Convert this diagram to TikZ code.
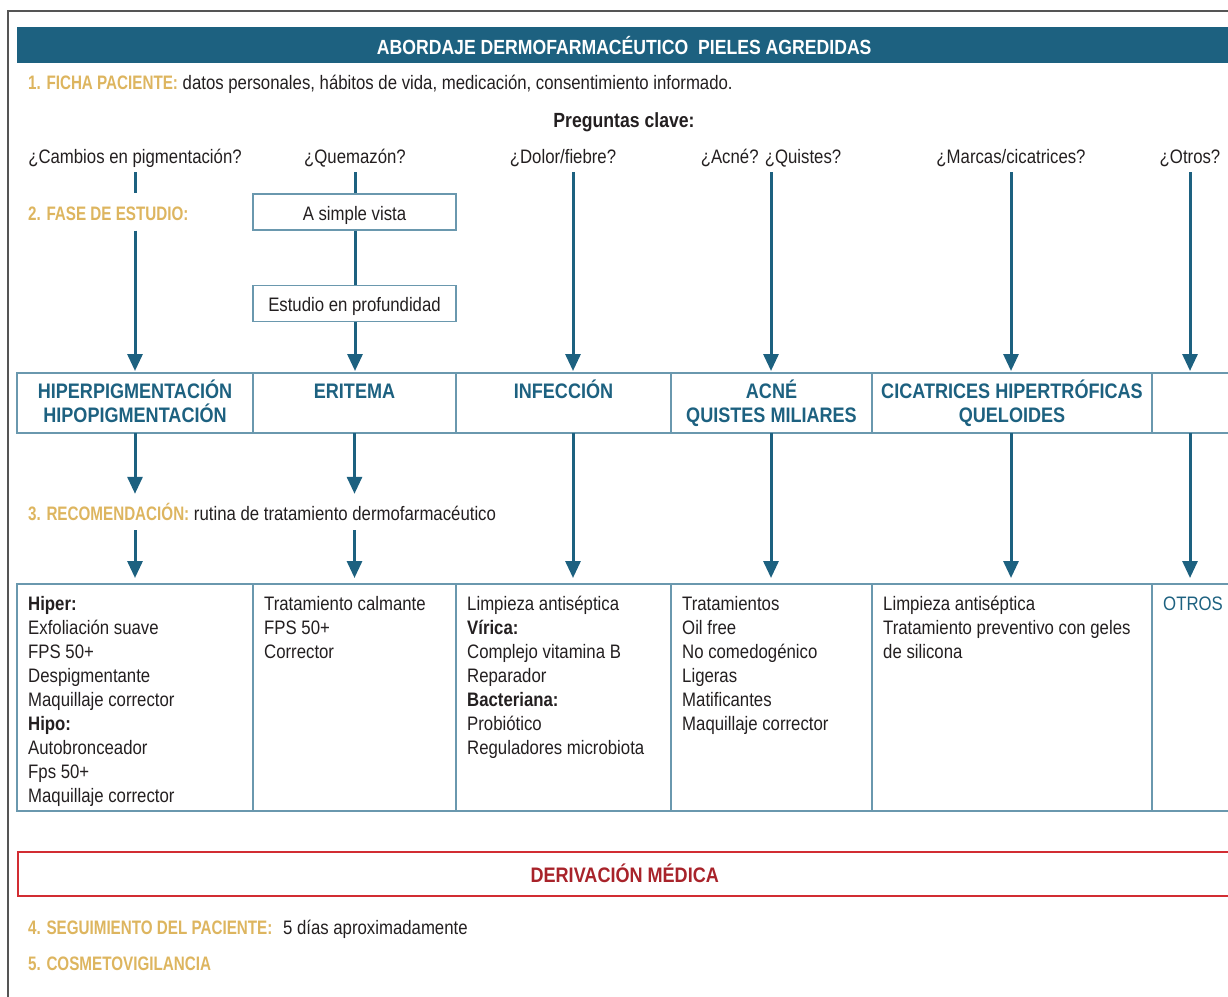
\documentclass[tikz,border=0pt]{standalone}
\usepackage{fontspec}
\setmainfont[FakeStretch=0.86]{Liberation Sans}
\newfontfamily\estrecha[FakeStretch=0.78]{Liberation Sans}
\usetikzlibrary{arrows.meta, positioning}

\definecolor{azul}{RGB}{29,97,128}
\definecolor{borde}{RGB}{106,152,174}
\definecolor{oro}{RGB}{221,181,95}
\definecolor{rojo}{RGB}{210,45,50}
\definecolor{rojotxt}{RGB}{168,35,42}
\definecolor{marco}{RGB}{85,85,85}
\definecolor{tinta}{RGB}{35,31,32}

\newcommand{\dorado}[1]{{\color{oro}\estrecha\bfseries #1}}

\tikzset{
  texto/.style={inner sep=0pt, text=tinta, font=\fontsize{19.5}{24}\selectfont},
  linea/.style={texto, text height=15pt, text depth=4pt},
  pregunta/.style={linea, outer ysep=5pt},
  caja/.style={color=borde, draw, line width=1.2pt, minimum width=203pt, minimum height=36pt, inner sep=0pt,
    text height=18pt, text depth=2pt, text=tinta, font=\fontsize{19.5}{24}\selectfont},
  cabecera/.style={draw=borde, line width=1.2pt, minimum height=60pt, inner sep=0pt, outer sep=0pt},
  celda/.style={draw=borde, line width=1.2pt, minimum height=227pt, inner sep=0pt, outer sep=0pt},
  titcol/.style={inner sep=0pt, align=center, text=azul, font=\fontsize{21}{24}\selectfont\bfseries},
  cuerpo/.style={texto, align=left},
  derivar/.style={color=rojo, draw, line width=1.5pt, minimum width=1214pt, minimum height=44pt, inner sep=0pt,
    text=rojotxt, font=\fontsize{21}{24}\selectfont\bfseries},
  flecha/.style={draw=azul, line width=3pt, -{Triangle[length=17pt, width=15pt]}},
  tramo/.style={draw=azul, line width=3pt}
}

\begin{document}
\begin{tikzpicture}[x=1pt, y=-1pt]
    \useasboundingbox (0,0) rectangle (1228,996);
    \draw[marco, line width=1.6pt] (8,998) -- (8,11) -- (1240,11);

    % cabecera
    \node (titulo) [anchor=north west, fill=azul, minimum width=1214pt, minimum height=36pt, inner sep=0pt,
        text=white, font=\fontsize{20.5}{24}\selectfont\bfseries] at (17,27) {ABORDAJE DERMOFARMACÉUTICO\ \ PIELES AGREDIDAS};

    \node (ficha) [linea, anchor=base west] at (28,89) {\dorado{1. FICHA PACIENTE:} datos personales, hábitos de vida, medicación, consentimiento informado.};
    \node (clave) [linea, anchor=base, font=\fontsize{20.5}{24}\selectfont\bfseries] at (624,127) {Preguntas clave:};

    % preguntas
    \node (q1) [pregunta, anchor=base] at (135,163) {¿Cambios en pigmentación?};
    \node (q2) [pregunta, anchor=base] at (355,163) {¿Quemazón?};
    \node (q3) [pregunta, anchor=base] at (563,163) {¿Dolor/fiebre?};
    \node (q4) [pregunta, anchor=base] at (771,163) {¿Acné? ¿Quistes?};
    \node (q5) [pregunta, anchor=base] at (1011,163) {¿Marcas/cicatrices?};
    \node (q6) [pregunta, anchor=base] at (1190,163) {¿Otros?};
    \coordinate (k3) at (573,0);

    \node (fase) [linea, anchor=base west] at (28,220) {\dorado{2. FASE DE ESTUDIO:}};
    \node (vista) [caja] at (354.5,212) {A simple vista};
    \node (prof) [caja, below=54pt of vista] {Estudio en profundidad};

    % fila de diagnosticos
    \node (h1) [cabecera, minimum width=236pt, anchor=north west] at (17,373) {};
    \node (h2) [cabecera, minimum width=203pt, right=0pt of h1] {};
    \node (h3) [cabecera, minimum width=215pt, right=0pt of h2] {};
    \node (h4) [cabecera, minimum width=201pt, right=0pt of h3] {};
    \node (h5) [cabecera, minimum width=280pt, right=0pt of h4] {};
    \node (h6) [cabecera, minimum width=90pt, right=0pt of h5] {};

    \node (e1) [titcol, anchor=north] at ([yshift=-5pt]h1.north) {\rule{0pt}{20pt}HIPERPIGMENTACIÓN\\HIPOPIGMENTACIÓN};
    \node (e2) [titcol, anchor=north] at ([yshift=-5pt]h2.north) {\rule{0pt}{20pt}ERITEMA};
    \node (e3) [titcol, anchor=north] at ([yshift=-5pt]h3.north) {\rule{0pt}{20pt}INFECCIÓN};
    \node (e4) [titcol, anchor=north] at ([yshift=-5pt]h4.north) {\rule{0pt}{20pt}ACNÉ\\QUISTES MILIARES};
    \node (e5) [titcol, anchor=north] at ([yshift=-5pt]h5.north) {\rule{0pt}{20pt}CICATRICES HIPERTRÓFICAS\\QUELOIDES};

    \node (rec) [linea, anchor=base west] at (28,520) {\dorado{3. RECOMENDACIÓN:} rutina de tratamiento dermofarmacéutico};

    % fila de tratamientos
    \node (b1) [celda, minimum width=236pt, anchor=north west] at (17,584) {};
    \node (b2) [celda, minimum width=203pt, right=0pt of b1] {};
    \node (b3) [celda, minimum width=215pt, right=0pt of b2] {};
    \node (b4) [celda, minimum width=201pt, right=0pt of b3] {};
    \node (b5) [celda, minimum width=280pt, right=0pt of b4] {};
    \node (b6) [celda, minimum width=90pt, right=0pt of b5] {};

    \node (t1) [cuerpo, anchor=north west] at ([xshift=11pt, yshift=-8pt]b1.north west) {\rule{0pt}{18pt}\textbf{Hiper:}\\Exfoliación suave\\FPS 50+\\Despigmentante\\Maquillaje corrector\\\textbf{Hipo:}\\Autobronceador\\Fps 50+\\Maquillaje corrector};
    \node (t2) [cuerpo, anchor=north west] at ([xshift=11pt, yshift=-8pt]b2.north west) {\rule{0pt}{18pt}Tratamiento calmante\\FPS 50+\\Corrector};
    \node (t3) [cuerpo, anchor=north west] at ([xshift=11pt, yshift=-8pt]b3.north west) {\rule{0pt}{18pt}Limpieza antiséptica\\\textbf{Vírica:}\\Complejo vitamina B\\Reparador\\\textbf{Bacteriana:}\\Probiótico\\Reguladores microbiota};
    \node (t4) [cuerpo, anchor=north west] at ([xshift=11pt, yshift=-8pt]b4.north west) {\rule{0pt}{18pt}Tratamientos\\Oil free\\No comedogénico\\Ligeras\\Matificantes\\Maquillaje corrector};
    \node (t5) [cuerpo, anchor=north west] at ([xshift=11pt, yshift=-8pt]b5.north west) {\rule{0pt}{18pt}Limpieza antiséptica\\Tratamiento preventivo con geles\\de silicona};
    \node (t6) [cuerpo, anchor=north west, text=azul] at ([xshift=11pt, yshift=-8pt]b6.north west) {\rule{0pt}{18pt}OTROS};

    % pie
    \node (deriv) [derivar, anchor=north west] at (17,851) {DERIVACIÓN MÉDICA};
    \node (seguim) [linea, anchor=base west] at (28,934) {\dorado{4. SEGUIMIENTO DEL PACIENTE:}\hspace{6pt} 5 días aproximadamente};
    \node (vigil) [linea, anchor=base west] at (28,970) {\dorado{5. COSMETOVIGILANCIA}};

    % conectores superiores
    \draw[tramo] (q1.south) -- (q1.south |- vista.north);
    \draw[flecha, shorten >=2pt] (q1.south |- vista.south) -- (h1.north -| q1.south);
    \draw[tramo] (q2.south) -- (vista.north -| q2.south);
    \draw[tramo] (vista.south -| q2.south) -- (prof.north -| q2.south);
    \draw[flecha, shorten >=2pt] (prof.south -| q2.south) -- (h2.north -| q2.south);
    \draw[flecha, shorten >=2pt] (q3.south -| k3) -- (h3.north -| k3);
    \draw[flecha, shorten >=2pt] (q4.south) -- (h4.north -| q4.south);
    \draw[flecha, shorten >=2pt] (q5.south) -- (h5.north -| q5.south);
    \draw[flecha, shorten >=2pt] (q6.south) -- (h6.north -| q6.south);

    % conectores inferiores
    \draw[flecha, shorten >=11pt] (h1.south) -- (h1.south |- rec.north);
    \draw[flecha, shorten <=6pt, shorten >=6pt] (h1.south |- rec.south) -- (b1.north -| h1.south);
    \draw[flecha, shorten >=11pt] (h2.south) -- (h2.south |- rec.north);
    \draw[flecha, shorten <=6pt, shorten >=6pt] (h2.south |- rec.south) -- (b2.north -| h2.south);
    \draw[flecha, shorten >=6pt] (h3.south -| k3) -- (b3.north -| k3);
    \draw[flecha, shorten >=6pt] (h4.south -| q4.south) -- (b4.north -| q4.south);
    \draw[flecha, shorten >=6pt] (h5.south -| q5.south) -- (b5.north -| q5.south);
    \draw[flecha, shorten >=6pt] (h6.south -| q6.south) -- (b6.north -| q6.south);
\end{tikzpicture}
\end{document}
